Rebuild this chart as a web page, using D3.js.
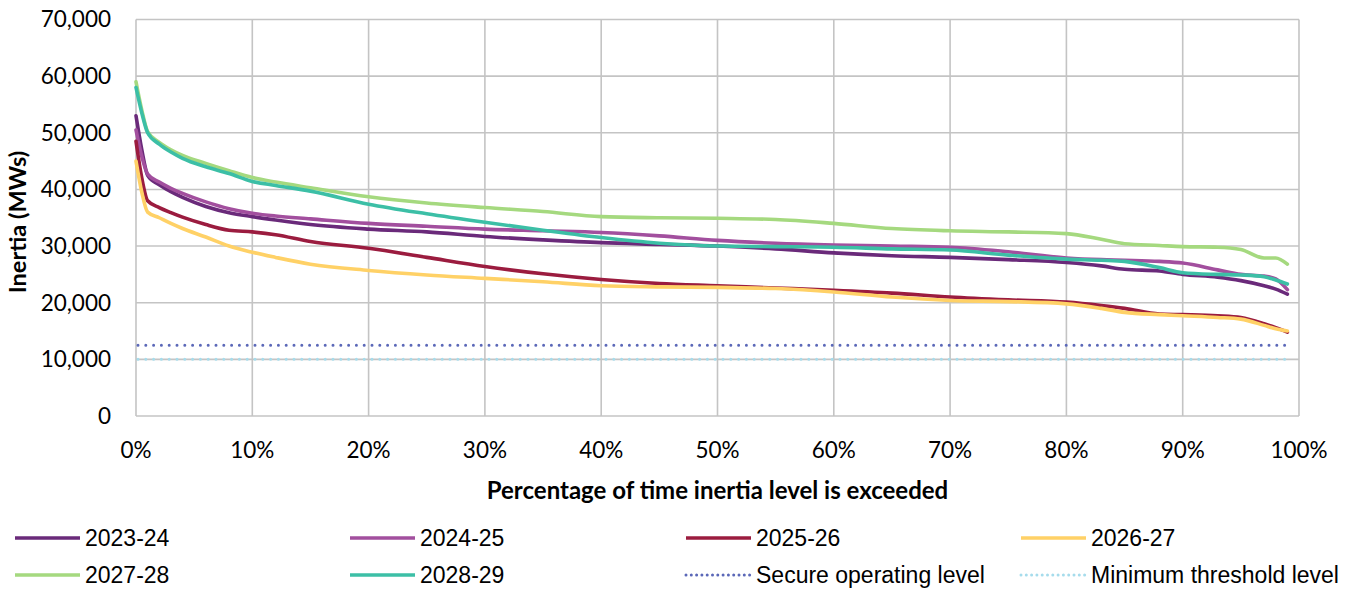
<!DOCTYPE html>
<html>
<head>
<meta charset="utf-8">
<script src="https://cdn.jsdelivr.net/npm/d3@7"></script>
<style>
  body { margin: 0; background: #fff; }
  svg { display: block; }
</style>
</head>
<body>
<div id="chart"></div>
<script>
// Percentage of time (x) at which each series was sampled
const pct = [0, 0.5, 1, 2, 3, 4, 6, 8, 10, 12, 15, 20, 25, 30, 35, 40, 45, 50, 55, 60, 65, 70, 75, 80, 83, 85, 88, 90, 93, 95, 97, 98, 99];

const y2023 = [53000, 47000, 42500, 40800, 39600, 38600, 37000, 35900, 35200, 34600, 33800, 33000, 32500, 31700, 31100, 30600, 30300, 30000, 29500, 28800, 28300, 28000, 27600, 27100, 26500, 25900, 25600, 25000, 24500, 23900, 23000, 22400, 21500];
const y2024 = [50500, 45800, 42700, 41300, 40200, 39300, 37800, 36600, 35800, 35300, 34800, 34000, 33500, 33000, 32700, 32400, 31800, 31000, 30500, 30200, 30000, 29800, 29000, 27900, 27600, 27500, 27300, 27000, 25800, 25000, 24700, 24200, 22300];
const y2025 = [48500, 42000, 38000, 36800, 35900, 35100, 33800, 32800, 32500, 32000, 30800, 29600, 28000, 26400, 25100, 24100, 23400, 23000, 22600, 22200, 21700, 21000, 20500, 20100, 19500, 19000, 18000, 17900, 17700, 17400, 16300, 15600, 14800];
const y2026 = [45000, 39500, 36000, 35000, 34000, 33100, 31600, 30000, 28900, 28000, 26800, 25700, 24900, 24300, 23700, 23000, 22800, 22700, 22500, 21900, 21000, 20400, 20200, 19800, 19000, 18300, 17900, 17700, 17400, 17100, 16000, 15400, 15000];
const y2027 = [59000, 54000, 50200, 48300, 47000, 46000, 44600, 43300, 42100, 41300, 40300, 38700, 37600, 36800, 36100, 35200, 35000, 34900, 34700, 34000, 33100, 32700, 32500, 32200, 31200, 30400, 30100, 29900, 29800, 29400, 27900, 27900, 26800];
const y2028 = [58000, 53500, 50000, 48000, 46600, 45500, 44000, 42800, 41400, 40700, 39700, 37400, 35700, 34200, 32800, 31500, 30500, 30000, 29900, 29800, 29500, 29300, 28400, 27700, 27500, 27300, 26200, 25300, 25000, 24900, 24600, 24000, 23300];

const seriesNames = ["2023-24", "2024-25", "2025-26", "2026-27", "2027-28", "2028-29"];
const seriesColors = ["#6a2a7a", "#a24f9e", "#9b1c3f", "#ffd166", "#a5d97f", "#3cbfa6"];
const seriesValues = [y2023, y2024, y2025, y2026, y2027, y2028];

const secureLevel = 12500;
const minimumLevel = 10000;
const yTicks = [0, 10000, 20000, 30000, 40000, 50000, 60000, 70000];
const xTicks = [0, 10, 20, 30, 40, 50, 60, 70, 80, 90, 100];

const width = 1359, height = 589;
const margin = {left: 136, right: 60, top: 19.5, bottom: 173};

const svg = d3.select("#chart").append("svg")
    .attr("width", width)
    .attr("height", height);

const x = d3.scaleLinear().domain([0, 100]).range([margin.left, width - margin.right]);
const y = d3.scaleLinear().domain([0, 70000]).range([height - margin.bottom, margin.top]);

// Gridlines (Excel style, light grey)
const grid = svg.append("g").attr("stroke", "#c4c4c4").attr("stroke-width", 1.6);
grid.selectAll(".hg").data(yTicks).enter().append("line")
    .attr("x1", x(0)).attr("x2", x(100))
    .attr("y1", d => y(d)).attr("y2", d => y(d));
grid.selectAll(".vg").data(xTicks).enter().append("line")
    .attr("x1", d => x(d)).attr("x2", d => x(d))
    .attr("y1", y(0)).attr("y2", y(70000));

// Tick labels
const fmt = d3.format(",");
svg.append("g").selectAll("text").data(yTicks).enter().append("text")
    .attr("x", x(0) - 25)
    .attr("y", d => y(d))
    .attr("dy", "0.35em")
    .attr("text-anchor", "end")
    .attr("font-family", "Lato, 'Open Sans', sans-serif")
    .attr("font-size", 22.5)
    .attr("fill", "#000")
    .text(d => fmt(d));

svg.append("g").selectAll("text").data(xTicks).enter().append("text")
    .attr("x", d => x(d))
    .attr("y", y(0) + 34)
    .attr("dy", "0.35em")
    .attr("text-anchor", "middle")
    .attr("font-family", "Lato, 'Open Sans', sans-serif")
    .attr("font-size", 22.5)
    .attr("fill", "#000")
    .text(d => d + "%");

// Axis titles
svg.append("text")
    .attr("x", (x(0) + x(100)) / 2)
    .attr("y", 499)
    .attr("text-anchor", "middle")
    .attr("font-family", "Lato, 'Open Sans', sans-serif")
    .attr("font-weight", "bold")
    .attr("font-size", 24)
    .text("Percentage of time inertia level is exceeded");

svg.append("text")
    .attr("transform", "translate(26, 222) rotate(-90)")
    .attr("text-anchor", "middle")
    .attr("font-family", "Lato, 'Open Sans', sans-serif")
    .attr("font-weight", "bold")
    .attr("font-size", 23.5)
    .text("Inertia (MWs)");

// Series lines
const line = d3.line()
    .x((d, i) => x(pct[i]))
    .y(d => y(d))
    .curve(d3.curveMonotoneX);

svg.append("g").selectAll("path").data(seriesValues).enter().append("path")
    .attr("d", d => line(d))
    .attr("fill", "none")
    .attr("stroke", (d, i) => seriesColors[i])
    .attr("stroke-width", 3.6)
    .attr("stroke-linejoin", "round")
    .attr("stroke-linecap", "round");

// Reference levels (dotted)
const levels = [
    {name: "Secure operating level", value: secureLevel, color: "#5b68b8"},
    {name: "Minimum threshold level", value: minimumLevel, color: "#a6dcec"}
];
svg.append("g").selectAll("line").data(levels).enter().append("line")
    .attr("x1", x(0) + 2).attr("x2", x(99))
    .attr("y1", d => y(d.value)).attr("y2", d => y(d.value))
    .attr("stroke", d => d.color)
    .attr("stroke-width", 3)
    .attr("stroke-linecap", "round")
    .attr("stroke-dasharray", "0,7.8");

// Legend
const legendItems = seriesNames.map((n, i) => ({name: n, color: seriesColors[i], dotted: false}))
    .concat(levels.map(l => ({name: l.name, color: l.color, dotted: true})));
const colX = [15, 350, 686, 1021];
const rowY = [538, 575];

const leg = svg.append("g").selectAll("g").data(legendItems).enter().append("g")
    .attr("transform", (d, i) => `translate(${colX[i % 4]}, ${rowY[Math.floor(i / 4)]})`);
leg.append("line")
    .attr("x1", 0).attr("x2", 65)
    .attr("stroke", d => d.color)
    .attr("stroke-width", d => d.dotted ? 3 : 3.6)
    .attr("stroke-linecap", d => d.dotted ? "round" : "butt")
    .attr("stroke-dasharray", d => d.dotted ? "0,5.3" : null);
leg.append("text")
    .attr("x", 70)
    .attr("dy", "0.35em")
    .attr("font-family", "'Liberation Sans', Arial, sans-serif")
    .attr("font-size", 23)
    .attr("fill", "#000")
    .text(d => d.name);
</script>
</body>
</html>
